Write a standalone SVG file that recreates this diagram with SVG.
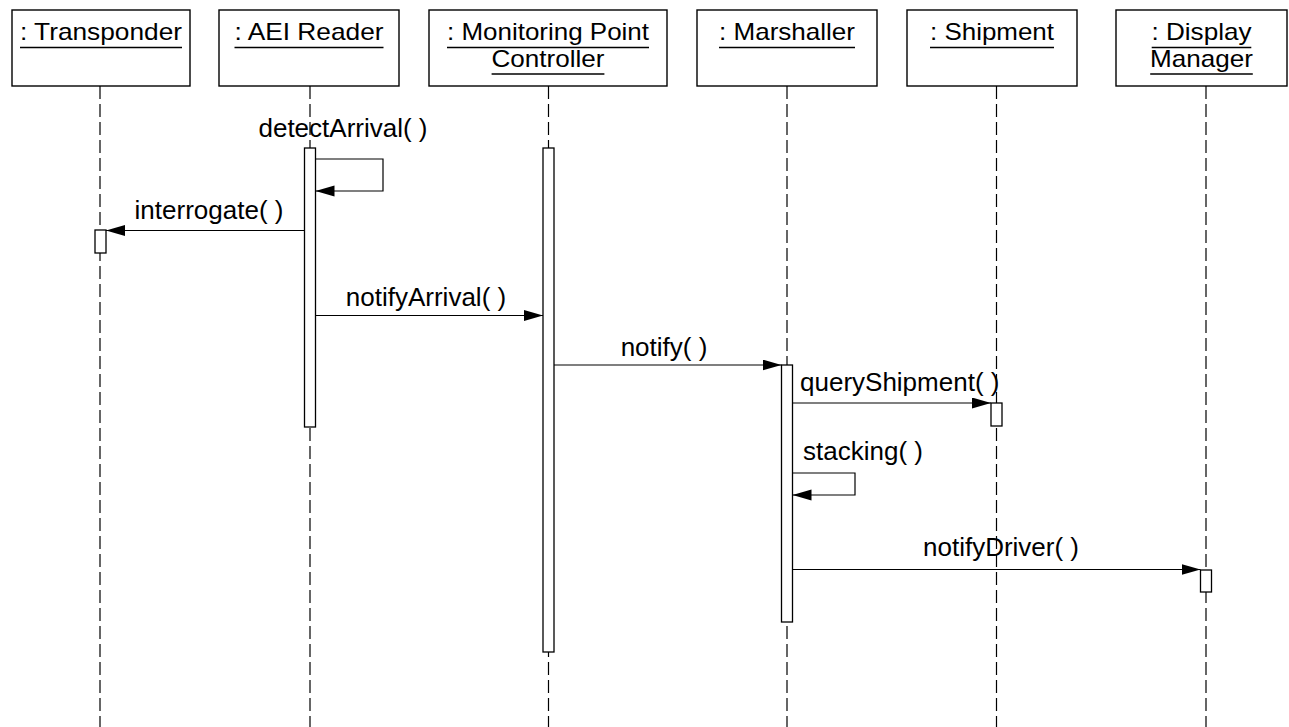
<svg xmlns="http://www.w3.org/2000/svg" width="1289" height="727" viewBox="0 0 1289 727">
  <defs>
    <marker id="arrow" markerUnits="userSpaceOnUse" markerWidth="20" markerHeight="12" refX="19" refY="5.5" orient="auto">
      <path d="M0,0 L19,5.5 L0,11 Z" fill="#000"/>
    </marker>
    <style>
      .box { fill: #fff; stroke: #000; stroke-width: 1.4; }
      .name { font-family: "Liberation Sans", Arial, sans-serif; font-size: 24px; fill: #000; text-anchor: middle; }
      .ul { stroke: #000; stroke-width: 1.4; }
      .life { stroke: #000; stroke-width: 1.2; stroke-dasharray: 13 5; fill: none; }
      .act { fill: #fff; stroke: #000; stroke-width: 1.3; }
      .msg { stroke: #000; stroke-width: 1.2; fill: none; marker-end: url(#arrow); }
      .label { font-family: "Liberation Sans", Arial, sans-serif; font-size: 26px; fill: #000; }
    </style>
  </defs>

  <rect width="1289" height="727" fill="#fff"/>

  <!-- lifeline: Transponder -->
  <g id="transponder">
    <line class="life" x1="100" y1="86" x2="100" y2="727"/>
    <rect class="box" x="12" y="10" width="178" height="76"/>
    <text class="name" x="101" y="39.5" textLength="162" lengthAdjust="spacingAndGlyphs">: Transponder</text>
    <line class="ul" x1="20" y1="47.5" x2="182" y2="47.5"/>
    <rect class="act" x="95" y="230" width="11" height="23"/>
  </g>

  <!-- lifeline: AEI Reader -->
  <g id="aei-reader">
    <line class="life" x1="310" y1="86" x2="310" y2="727"/>
    <rect class="box" x="219" y="10" width="180" height="76"/>
    <text class="name" x="309" y="39.5" textLength="149" lengthAdjust="spacingAndGlyphs">: AEI Reader</text>
    <line class="ul" x1="234.5" y1="47.5" x2="383.5" y2="47.5"/>
    <rect class="act" x="304.5" y="148" width="11" height="279"/>
  </g>

  <!-- lifeline: Monitoring Point Controller -->
  <g id="monitoring-point-controller">
    <line class="life" x1="548.5" y1="86" x2="548.5" y2="727"/>
    <rect class="box" x="429" y="10" width="238" height="76"/>
    <text class="name" x="548" y="39.5" textLength="202" lengthAdjust="spacingAndGlyphs">: Monitoring Point</text>
    <line class="ul" x1="447" y1="47.5" x2="649" y2="47.5"/>
    <text class="name" x="548" y="67" textLength="113" lengthAdjust="spacingAndGlyphs">Controller</text>
    <line class="ul" x1="491.6" y1="74" x2="604.4" y2="74"/>
    <rect class="act" x="543" y="148" width="11" height="504"/>
  </g>

  <!-- lifeline: Marshaller -->
  <g id="marshaller">
    <line class="life" x1="787" y1="86" x2="787" y2="727"/>
    <rect class="box" x="697" y="10" width="180" height="76"/>
    <text class="name" x="787" y="39.5" textLength="136" lengthAdjust="spacingAndGlyphs">: Marshaller</text>
    <line class="ul" x1="719" y1="47.5" x2="855" y2="47.5"/>
    <rect class="act" x="781.5" y="365" width="11" height="257"/>
  </g>

  <!-- lifeline: Shipment -->
  <g id="shipment">
    <line class="life" x1="996.5" y1="86" x2="996.5" y2="727"/>
    <rect class="box" x="907" y="10" width="170" height="76"/>
    <text class="name" x="992" y="39.5" textLength="124" lengthAdjust="spacingAndGlyphs">: Shipment</text>
    <line class="ul" x1="930" y1="47.5" x2="1054" y2="47.5"/>
    <rect class="act" x="991" y="403" width="11" height="23"/>
  </g>

  <!-- lifeline: Display Manager -->
  <g id="display-manager">
    <line class="life" x1="1206" y1="86" x2="1206" y2="727"/>
    <rect class="box" x="1116" y="10" width="171" height="76"/>
    <text class="name" x="1201.5" y="39.5" textLength="100" lengthAdjust="spacingAndGlyphs">: Display</text>
    <line class="ul" x1="1151.7" y1="47.5" x2="1251.3" y2="47.5"/>
    <text class="name" x="1201.5" y="67" textLength="103" lengthAdjust="spacingAndGlyphs">Manager</text>
    <line class="ul" x1="1150.2" y1="74" x2="1252.8" y2="74"/>
    <rect class="act" x="1200.5" y="570" width="11" height="22"/>
  </g>

  <!-- messages -->
  <g id="connectors">
    <polyline class="msg" points="315.5,159 383,159 383,191 315.5,191"/>
    <text class="label" x="343" y="137" text-anchor="middle">detectArrival( )</text>

    <line class="msg" x1="304.5" y1="230.5" x2="106" y2="230.5"/>
    <text class="label" x="209" y="219" text-anchor="middle">interrogate( )</text>

    <line class="msg" x1="315.5" y1="315.5" x2="543" y2="315.5"/>
    <text class="label" x="426" y="306" text-anchor="middle">notifyArrival( )</text>

    <line class="msg" x1="554" y1="365" x2="781.5" y2="365"/>
    <text class="label" x="664" y="356" text-anchor="middle">notify( )</text>

    <line class="msg" x1="792.5" y1="403" x2="991" y2="403"/>
    <text class="label" x="800" y="391">queryShipment( )</text>

    <polyline class="msg" points="792.5,473 855,473 855,495 792.5,495"/>
    <text class="label" x="803" y="460">stacking( )</text>

    <line class="msg" x1="792.5" y1="569.5" x2="1200.5" y2="569.5"/>
    <text class="label" x="1001" y="556" text-anchor="middle">notifyDriver( )</text>
  </g>
</svg>
